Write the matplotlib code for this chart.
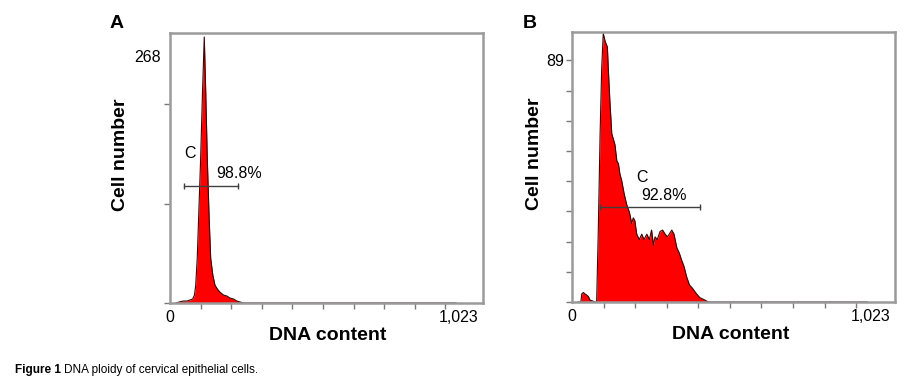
import matplotlib
matplotlib.use("Agg")
import matplotlib.pyplot as plt

# DNA histogram, panel A (channel, cell count)
a_channel = [20, 30, 44, 56, 65, 74, 80, 84, 89, 94, 100, 106, 112, 117, 122,
             128, 133, 140, 147, 155, 163, 175, 186, 196, 208, 218, 229, 240, 935]
a_count = [0, 1, 2, 2, 3, 4, 8, 18, 45, 90, 144, 210, 268, 210, 144,
           85, 45, 28, 18, 14, 11, 8, 7, 5, 4, 2, 1, 0, 0]

# DNA histogram, panel B
b_channel = [19, 28, 31, 36, 41, 46, 52, 57, 62, 67, 72, 78, 83, 89, 94, 99,
             105, 112, 115, 120, 126, 131, 136, 142, 147, 152, 157, 165, 173,
             182, 189, 194, 199, 205, 213, 221, 228, 237, 245, 252, 258, 263,
             270, 279, 287, 295, 302, 308, 316, 323, 332, 340, 347, 355, 363,
             372, 382, 393, 405, 421, 432, 935]
b_count = [0, 0, 3, 3.5, 3, 2.6, 2, 0.7, 0.5, 0.3, 0, 0, 25, 62, 86, 99,
           96, 94, 86, 74, 62, 60, 58, 52, 51, 47, 45, 40, 36,
           33, 29, 31, 30, 25, 23, 25, 23, 25, 23, 26.5, 21, 24,
           23, 26, 26.5, 25, 24, 25, 26.5, 25, 20, 18, 15.5, 13, 9.3,
           6.3, 5, 3.2, 1.6, 0.7, 0, 0]

panels = ["A", "B"]
y_max_label = ["268", "89"]
gate_pct = ["98.8%", "92.8%"]
gate_a = (46, 222, 118)   # start channel, end channel, count level
gate_b = (89, 405, 35)

plt.rcParams["font.family"] = ["Liberation Sans", "DejaVu Sans"]

fig = plt.figure(figsize=(9.11, 3.80), dpi=100)
ax_a = fig.add_axes([170 / 911, 77 / 380, 313 / 911, 270 / 380])
ax_b = fig.add_axes([572 / 911, 78 / 380, 323 / 911, 270 / 380])


def style_axes(ax):
    for sp in ax.spines.values():
        sp.set_color("#9a9a9a")
        sp.set_linewidth(1.8)
    ax.set_xlim(0, 1023)
    ax.set_xticks(range(100, 1000, 100))
    ax.set_xticklabels([])
    ax.tick_params(axis="both", direction="out", length=4, width=1,
                   color="#7a7a7a", labelsize=11.5)
    ax.text(0, -0.055, "0", transform=ax.transAxes, ha="center", va="center",
            fontsize=11.5)
    ax.text(0.985, -0.055, "1,023", transform=ax.transAxes, ha="right",
            va="center", fontsize=11.5)
    ax.set_xlabel("DNA content", fontsize=14, fontweight="bold")
    ax.set_ylabel("Cell number", fontsize=14, fontweight="bold")


def draw_hist(ax, ch, cnt):
    ax.fill_between(ch, cnt, 0, color="#ff0000", linewidth=0)
    ax.plot(ch, cnt, color="#3a0505", linewidth=0.8)


def draw_gate(ax, gate, label, c_xy, p_xy):
    x0, x1, y = gate
    ax.plot([x0, x1], [y, y], color="#404040", linewidth=1.0)
    ax.plot([x0, x1], [y, y], linestyle="none", marker="|", markersize=5,
            color="#404040", markeredgewidth=1.0)
    ax.text(c_xy[0], c_xy[1], "C", transform=ax.transAxes, fontsize=11.5,
            ha="left", va="center")
    ax.text(p_xy[0], p_xy[1], label, transform=ax.transAxes, fontsize=11.5,
            ha="left", va="center")


# --- Panel A ---
style_axes(ax_a)
ax_a.set_ylim(0, 272)
ax_a.set_yticks([0, 100, 200])
ax_a.set_yticklabels([])
draw_hist(ax_a, a_channel, a_count)
draw_gate(ax_a, gate_a, gate_pct[0], (0.045, 0.555), (0.147, 0.48))
ax_a.text(-0.03, 0.91, y_max_label[0], transform=ax_a.transAxes,
          ha="right", va="center", fontsize=11.5)
ax_a.yaxis.set_label_coords(-0.13, 0.55)
ax_a.xaxis.set_label_coords(0.505, -0.09)

# --- Panel B ---
style_axes(ax_b)
ax_b.set_ylim(0, 99.5)
b_ticks = [89 * k / 8 for k in range(9)]
ax_b.set_yticks(b_ticks)
ax_b.set_yticklabels([""] * 8 + [y_max_label[1]])
ax_b.tick_params(axis="y", pad=2)
draw_hist(ax_b, b_channel, b_count)
draw_gate(ax_b, gate_b, gate_pct[1], (0.2, 0.46), (0.215, 0.395))
ax_b.yaxis.set_label_coords(-0.09, 0.55)
ax_b.xaxis.set_label_coords(0.49, -0.09)

# panel letters
fig.text(117 / 911, 1 - 23 / 380, panels[0], fontsize=14, fontweight="bold",
         ha="center", va="center")
fig.text(530 / 911, 1 - 23 / 380, panels[1], fontsize=14, fontweight="bold",
         ha="center", va="center")

# caption
cap1 = fig.text(15 / 911, 10 / 380, "Figure 1", fontsize=8.5, fontweight="bold",
                ha="left", va="center")
fig.canvas.draw()
bb = cap1.get_window_extent()
fig.text((bb.x1 + 3) / 911, 10 / 380, "DNA ploidy of cervical epithelial cells.",
         fontsize=8.5, ha="left", va="center")

fig.savefig("out.png", dpi=100)
